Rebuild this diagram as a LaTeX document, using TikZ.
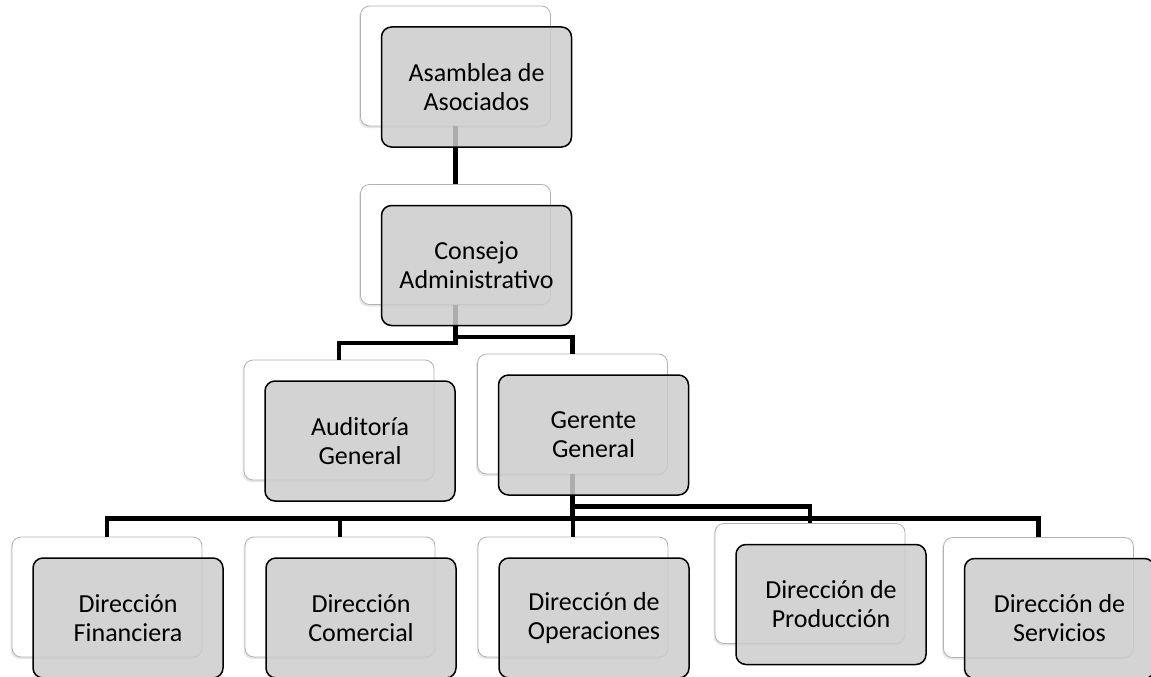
\documentclass[tikz,border=0pt]{standalone}
\usepackage{fontspec}
\setmainfont{Carlito}
\usetikzlibrary{shadows}

\begin{document}
\begin{tikzpicture}[x=1pt,y=-1pt,
    back/.style={draw=gray!60,fill=white,line width=0.8pt,rounded corners=9pt,
      minimum width=190pt,minimum height=120pt,
      drop shadow={shadow xshift=-1.5pt,shadow yshift=-2pt,opacity=0.2}},
    front/.style={draw=black,line width=1.5pt,fill=black!20,fill opacity=0.85,text opacity=1,
      rounded corners=10pt,minimum width=190pt,minimum height=120pt,align=center,
      font=\fontsize{26}{29}\selectfont,xshift=21pt,yshift=-21pt},
    conn/.style={line width=4.8pt}]
  \useasboundingbox (0,0) rectangle (1151,677);
  % back boxes
  \node[back] (asamB) at (455.5,66) {};
  \node[back] (conB) at (455.5,244.5) {};
  \node[back] (audB) at (339,420) {};
  \node[back] (gerB) at (572.5,414) {};
  \node[back] (finB) at (107,597) {};
  \node[back] (comB) at (340,597) {};
  \node[back] (opeB) at (573,597) {};
  \node[back] (proB) at (810,583.5) {};
  \node[back] (serB) at (1038.5,597.5) {};
  % connectors
  \draw[conn] (asamB.south) -- (conB.north);
  \draw[conn] (conB.south) -- ++(0,38) -| (audB.north);
  \draw[conn] (conB.south) -- ++(0,32) -| (gerB.north);
  \foreach \n in {finB,comB,opeB,serB}
    \draw[conn] (gerB.south) -- ++(0,44) -| (\n.north);
  \draw[conn] (gerB.south) -- ++(0,32) -| (proB.north);
  % front boxes
  \node[front] (asamF) at (asamB) {Asamblea de\\Asociados};
  \node[front] (conF) at (conB) {Consejo\\Administrativo};
  \node[front] (audF) at (audB) {Auditoría\\General};
  \node[front] (gerF) at (gerB) {Gerente\\General};
  \node[front] (finF) at (finB) {Dirección\\Financiera};
  \node[front] (comF) at (comB) {Dirección\\Comercial};
  \node[front] (opeF) at (opeB) {Dirección de\\Operaciones};
  \node[front] (proF) at (proB) {Dirección de\\Producción};
  \node[front] (serF) at (serB) {Dirección de\\Servicios};
\end{tikzpicture}
\end{document}
